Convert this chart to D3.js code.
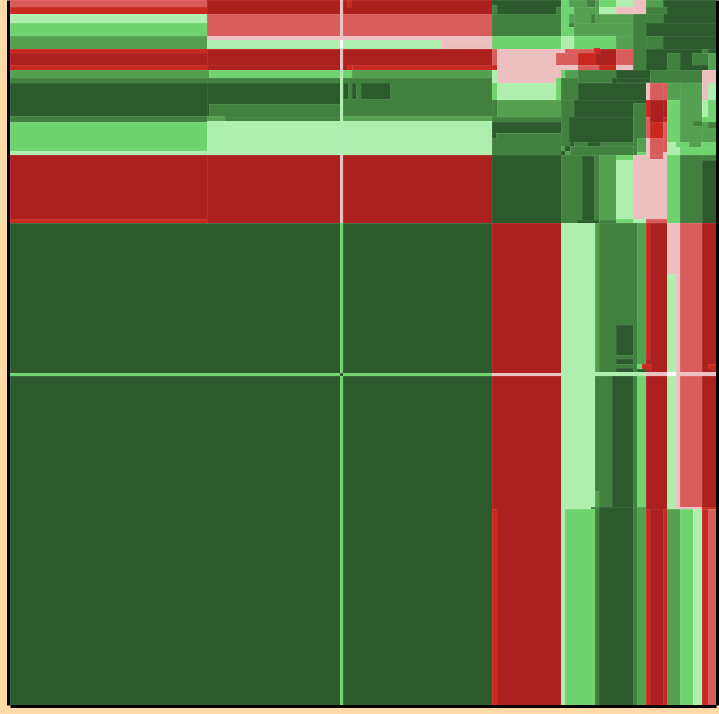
<!DOCTYPE html>
<html>
<head>
<meta charset="utf-8">
<script src="https://cdn.jsdelivr.net/npm/d3@7"></script>
<style>
  html, body { margin: 0; padding: 0; background: #ffd9a8; overflow: hidden; }
  svg { display: block; }
  .frame path { stroke: #000; stroke-width: 3; }
  .cell { stroke: #fff; stroke-opacity: 0.07; shape-rendering: crispEdges; }
</style>
</head>
<body>
<div class="chart"></div>
<script>
// value levels of the matrix, from strong positive to strong negative
var levels = ["dg", "g", "mg", "lg", "pg", "wh", "pk", "sa", "br", "dr"];

// every block is [rowRank0, rowRank1, colRank0, colRank1, level]
var baseBlocks = [
  [0, 706, 0, 223, "g"],
  [0, 706, 223, 705, "dg"]
];

var leftRows = [
  [0, 197, 0, 7, "sa"], [0, 197, 7, 14, "br"], [0, 197, 14, 23, "pg"], [0, 197, 23, 36, "lg"],
  [0, 197, 36, 49, "mg"], [0, 197, 49, 53, "br"], [0, 197, 53, 65, "dr"], [0, 197, 65, 70, "br"],
  [0, 199, 70, 78, "mg"], [0, 197, 78, 83, "g"], [0, 197, 83, 116, "dg"], [0, 197, 116, 122, "g"],
  [0, 197, 122, 151, "lg"], [0, 197, 151, 155, "pg"], [0, 197, 155, 219, "dr"], [0, 197, 219, 223, "br"]
];

var midRows = [
  [197, 482, 0, 14, "dr"], [197, 482, 14, 36, "sa"], [197, 482, 36, 40, "pk"], [197, 432, 40, 49, "pg"],
  [432, 482, 40, 49, "pk"], [197, 482, 49, 65, "dr"], [197, 337, 65, 70, "dr"], [342, 482, 65, 70, "br"],
  [337, 342, 65, 70, "br"], [199, 337, 70, 78, "lg"], [337, 342, 70, 78, "lg"], [342, 482, 70, 78, "mg"],
  [197, 482, 78, 83, "g"], [197, 330, 83, 104, "dg"], [197, 199, 104, 116, "dg"], [199, 330, 104, 117, "g"],
  [197, 215, 116, 122, "mg"], [215, 330, 117, 121, "g"], [330, 482, 78, 116, "g"], [330, 482, 116, 121, "mg"],
  [197, 482, 121, 155, "pg"], [197, 482, 155, 223, "dr"], [333, 338, 83, 99, "dg"], [342, 346, 83, 99, "dg"],
  [351, 380, 83, 99, "dg"], [337, 341, 0, 7, "br"]
];

var crossRow = [
  [0, 482, 373, 376, "lg"]
];

var crossCol = [
  [330, 333, 0, 40, "pk"], [330, 333, 40, 49, "wh"], [330, 333, 49, 70, "pk"], [330, 333, 70, 155, "pg"],
  [330, 333, 155, 223, "pk"], [330, 333, 223, 373, "lg"], [330, 333, 373, 376, "dg"], [330, 333, 376, 705, "lg"]
];

var upperLeftOfRight = [
  [482, 551, 0, 14, "dg"], [482, 487, 5, 14, "g"], [546, 551, 7, 14, "g"], [482, 551, 14, 36, "g"],
  [482, 551, 36, 49, "lg"], [482, 487, 49, 65, "sa"], [482, 487, 65, 70, "br"], [482, 487, 70, 83, "pg"],
  [487, 546, 49, 83, "pk"], [546, 551, 49, 78, "pk"], [546, 551, 78, 83, "lg"], [482, 487, 83, 100, "lg"],
  [487, 546, 83, 100, "pg"], [546, 551, 83, 100, "lg"], [482, 487, 100, 117, "g"], [487, 551, 100, 117, "mg"],
  [482, 551, 117, 122, "g"], [482, 551, 133, 155, "g"], [482, 551, 122, 133, "dg"], [482, 486, 133, 138, "dg"]
];

var topRight = [
  [551, 559, 0, 27, "lg"], [559, 564, 7, 14, "lg"], [551, 564, 27, 36, "lg"], [559, 585, 0, 7, "mg"],
  [564, 585, 7, 23, "mg"], [559, 564, 14, 23, "mg"], [577, 585, 0, 7, "g"], [585, 589, 0, 14, "mg"],
  [581, 585, 14, 23, "g"], [585, 623, 14, 23, "mg"], [564, 623, 23, 36, "mg"], [551, 564, 36, 49, "pg"],
  [564, 606, 36, 49, "lg"], [606, 623, 36, 49, "mg"], [589, 606, 0, 7, "lg"], [606, 623, 0, 7, "pg"],
  [623, 636, 0, 14, "pk"], [589, 606, 7, 14, "pg"], [606, 623, 7, 14, "pk"], [623, 636, 14, 70, "g"],
  [653, 706, 0, 23, "dg"], [636, 653, 0, 7, "mg"], [636, 657, 7, 14, "g"], [636, 653, 14, 23, "g"],
  [636, 706, 23, 36, "dg"], [636, 653, 36, 49, "g"], [653, 706, 36, 49, "dg"],
  [551, 555, 49, 53, "pk"], [555, 568, 49, 53, "sa"], [546, 568, 53, 65, "sa"], [568, 585, 49, 53, "sa"],
  [568, 585, 53, 65, "br"], [585, 606, 49, 65, "dr"], [584, 590, 48, 53, "br"], [551, 568, 65, 70, "pk"],
  [568, 589, 65, 70, "sa"], [589, 606, 65, 70, "br"], [606, 623, 49, 65, "sa"], [606, 623, 65, 70, "pk"],
  [636, 706, 49, 70, "dg"], [657, 670, 53, 70, "g"], [682, 698, 53, 65, "g"], [692, 698, 49, 53, "g"],
  [698, 706, 53, 70, "mg"],
  [551, 568, 70, 78, "mg"], [551, 555, 70, 78, "lg"], [568, 606, 70, 82, "g"], [606, 640, 70, 78, "dg"],
  [640, 692, 70, 82, "g"], [692, 706, 70, 100, "pk"], [698, 706, 83, 100, "pg"], [692, 698, 100, 117, "pg"],
  [698, 706, 100, 117, "lg"],
  [551, 568, 78, 100, "g"], [551, 564, 100, 146, "g"], [602, 636, 78, 83, "dg"], [606, 640, 78, 82, "dg"],
  [568, 636, 83, 100, "dg"], [564, 623, 100, 117, "dg"], [623, 636, 100, 103, "dg"],
  [623, 636, 103, 147, "g"], [627, 636, 138, 152, "mg"], [623, 627, 147, 155, "g"], [627, 636, 152, 155, "lg"],
  [559, 623, 117, 142, "dg"], [577, 590, 142, 146, "dg"], [564, 577, 142, 146, "g"], [590, 627, 142, 146, "g"],
  [560, 623, 146, 155, "g"],
  [551, 555, 146, 151, "mg"], [555, 560, 146, 151, "dg"], [551, 555, 151, 155, "dg"], [555, 560, 151, 155, "mg"],
  [560, 564, 142, 146, "dg"]
];

var rightStrips = [
  [636, 640, 83, 100, "pk"], [636, 640, 100, 117, "br"], [636, 640, 117, 138, "sa"], [636, 640, 138, 155, "pk"],
  [640, 653, 83, 100, "sa"], [640, 653, 100, 122, "dr"], [640, 653, 122, 138, "br"], [640, 653, 138, 159, "sa"],
  [653, 657, 83, 100, "sa"], [653, 657, 100, 117, "dr"], [653, 657, 117, 122, "br"], [653, 657, 122, 152, "sa"],
  [653, 657, 152, 155, "pk"], [657, 670, 83, 100, "mg"], [657, 670, 100, 142, "lg"], [657, 670, 142, 155, "pg"],
  [670, 692, 83, 142, "mg"], [683, 692, 121, 126, "g"], [692, 706, 117, 122, "lg"], [692, 706, 122, 142, "mg"],
  [698, 706, 122, 128, "g"], [666, 679, 142, 147, "lg"], [679, 691, 142, 147, "mg"], [691, 706, 142, 147, "lg"],
  [670, 706, 147, 155, "lg"], [670, 679, 155, 160, "g"]
];

var middleBand = [
  [482, 551, 155, 223, "dg"], [551, 572, 155, 223, "g"], [572, 584, 156, 220, "dg"], [584, 589, 155, 223, "g"],
  [589, 606, 155, 220, "mg"], [589, 606, 220, 223, "g"], [567, 589, 220, 223, "dg"], [606, 623, 155, 160, "lg"],
  [606, 623, 160, 219, "pg"], [606, 623, 219, 223, "lg"], [623, 657, 155, 219, "pk"], [623, 636, 219, 223, "pg"],
  [636, 657, 219, 223, "sa"], [640, 653, 155, 159, "sa"], [657, 670, 155, 223, "lg"], [670, 692, 155, 223, "g"],
  [692, 706, 160, 223, "dg"], [692, 706, 155, 160, "g"]
];

var lowerRight = [
  [482, 551, 223, 705, "dr"], [482, 487, 509, 705, "br"], [482, 551, 373, 376, "pk"],
  [551, 585, 223, 509, "pg"], [551, 555, 509, 705, "pg"], [555, 585, 509, 705, "lg"],
  [585, 589, 223, 372, "mg"], [589, 627, 223, 372, "g"], [606, 623, 325, 355, "dg"], [606, 623, 359, 364, "dg"],
  [606, 623, 368, 373, "dg"], [627, 636, 223, 364, "mg"], [636, 640, 223, 359, "br"], [636, 640, 359, 372, "dr"],
  [640, 657, 223, 376, "dr"], [627, 632, 364, 369, "lg"], [632, 641, 364, 369, "br"], [585, 636, 372, 376, "pg"],
  [636, 657, 372, 376, "pk"], [585, 602, 376, 507, "g"], [602, 623, 376, 507, "dg"], [623, 627, 376, 507, "g"],
  [627, 636, 376, 507, "lg"], [636, 657, 376, 509, "dr"], [585, 589, 491, 507, "mg"], [581, 585, 507, 509, "g"],
  [585, 589, 507, 705, "g"], [589, 623, 507, 705, "dg"], [623, 627, 507, 705, "g"], [627, 636, 507, 705, "mg"],
  [636, 640, 509, 705, "br"], [640, 653, 509, 705, "dr"], [653, 657, 509, 705, "br"], [657, 670, 509, 705, "mg"],
  [670, 683, 509, 705, "lg"], [683, 692, 509, 705, "pg"], [692, 698, 509, 705, "br"], [698, 706, 509, 705, "sa"],
  [657, 670, 223, 274, "pk"], [657, 666, 274, 509, "pg"], [666, 670, 274, 509, "pk"], [670, 692, 223, 507, "sa"],
  [692, 706, 223, 507, "dr"], [670, 692, 507, 509, "pk"], [692, 706, 507, 509, "br"], [666, 706, 372, 376, "pk"],
  [657, 666, 372, 376, "wh"], [698, 706, 364, 369, "br"]
];

var levelColors = ["#2d5a2d", "#41803f", "#52a050", "#6fd46f", "#aeeeae", "#ffffff", "#edc0c0", "#d95c5c", "#c8281e", "#ad2020"];

var svgWidth = 719;
var svgHeight = 714;
var margin = { left: 10, right: 3, top: 0, bottom: 9 };

var xScale = d3.scaleLinear().domain([0, 706]).range([margin.left, svgWidth - margin.right]);
var yScale = d3.scaleLinear().domain([0, 705]).range([margin.top, svgHeight - margin.bottom]);
var colorScale = d3.scaleOrdinal().domain(levels).range(levelColors);

var svg = d3.select(".chart")
  .append("svg")
  .attr("width", svgWidth)
  .attr("height", svgHeight);

// painter's order, later layers sit over the earlier ones
var blocks = [].concat(baseBlocks, leftRows, midRows, crossRow, upperLeftOfRight, topRight,
  rightStrips, middleBand, lowerRight, crossCol);

svg.append("g")
  .selectAll("rect")
  .data(blocks)
  .enter()
  .append("rect")
  .attr("class", "cell")
  .attr("x", d => xScale(d[0]))
  .attr("y", d => yScale(d[2]))
  .attr("width", d => xScale(d[1]) - xScale(d[0]))
  .attr("height", d => yScale(d[3]) - yScale(d[2]))
  .attr("fill", d => colorScale(d[4]));

// black frame: axes without ticks
var noTicks = a => a.tickValues([]).tickSize(0);

svg.append("g").attr("class", "frame")
  .attr("transform", `translate(${margin.left - 2}, 0)`)
  .call(noTicks(d3.axisLeft(yScale)));
svg.append("g").attr("class", "frame")
  .attr("transform", `translate(${svgWidth - margin.right + 1}, 0)`)
  .call(noTicks(d3.axisRight(yScale)));
svg.append("g").attr("class", "frame")
  .attr("transform", `translate(0, ${svgHeight - margin.bottom + 1})`)
  .call(noTicks(d3.axisBottom(xScale)));
</script>
</body>
</html>
